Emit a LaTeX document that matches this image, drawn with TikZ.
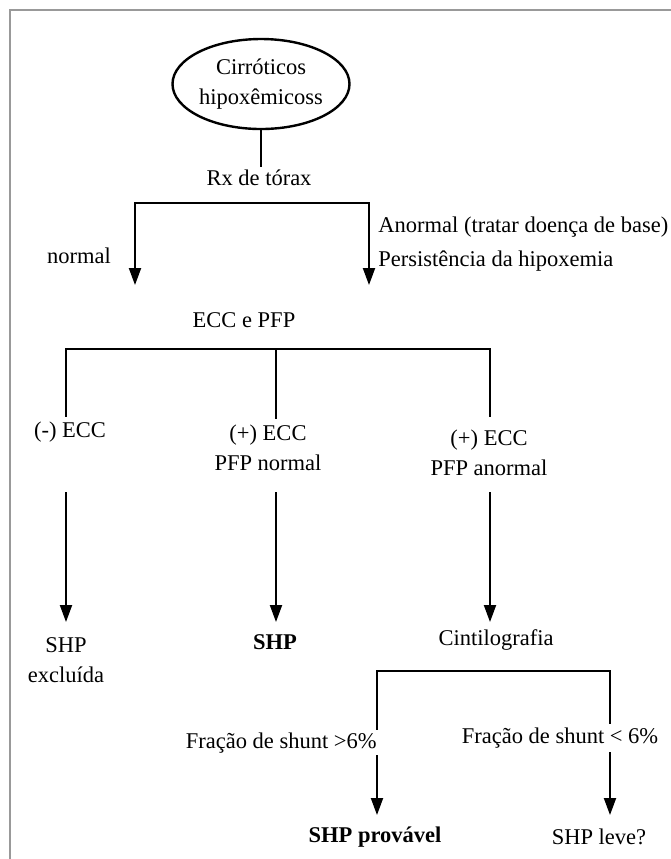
\documentclass[tikz,border=0pt]{standalone}
\usepackage{fontspec}
\setmainfont{Liberation Serif}
\usetikzlibrary{shapes.geometric,arrows.meta}
\begin{document}
\begin{tikzpicture}[
  x=0.5pt, y=-0.5pt,
  every node/.style={font=\fontsize{11.25}{15}\selectfont},
  oval/.style={ellipse, draw, line width=1.2pt, minimum width=88.5pt, minimum height=45pt, inner sep=0pt, align=center},
  txt/.style={inner sep=2pt, align=center},
  link/.style={line width=1.05pt, line cap=rect},
  arrow/.style={-{Triangle[length=8.5pt, width=6pt]}, line width=1.05pt, line cap=rect},
  frame/.style={draw=gray!80, line width=1pt}
]
\useasboundingbox (0,0) rectangle (671,859);
\draw[frame] (671,10) -- (9.5,10) -- (9.5,859);

\node[oval] at (261,84) (root) {Cirróticos\\hipoxêmicoss};
\node[txt] at (259,178) (rx) {Rx de tórax};
\node[txt] at (79,256) (normal) {normal};
\node[txt, anchor=west, align=left] at (374,244) (abnormal) {Anormal (tratar doença de base)\\[2pt]Persistência da hipoxemia};
\node[txt] at (244,320) (eccpfp) {ECC e PFP};
\node[txt] at (70,432) (neg) {(-) ECC};
\node[txt] at (268,448) (posnorm) {(+) ECC\\PFP normal};
\node[txt] at (489,453) (posabn) {(+) ECC\\PFP anormal};
\node[txt] at (66,660) (excl) {SHP\\excluída};
\node[txt] at (275,642) (shp) {\textbf{SHP}};
\node[txt] at (496,640) (cinti) {Cintilografia};
\node[txt, anchor=east] at (381,743) (high) {Fração de shunt >6\%};
\node[txt] at (560,738) (low) {Fração de shunt < 6\%};
\node[txt] at (375,837) (probable) {\textbf{SHP provável}};
\node[txt] at (599,837) (mild) {SHP leve?};

\coordinate (b1l) at (135,203);
\coordinate (b1r) at (369,203);
\coordinate (a1) at (135,285);
\coordinate (a2) at (369,285);
\coordinate (b2l) at (66,349);
\coordinate (b2m) at (276,349);
\coordinate (b2r) at (490,349);
\coordinate (d1) at (66,416);
\coordinate (d2) at (276,418);
\coordinate (d3) at (490,416);
\coordinate (s1) at (66,493);
\coordinate (s2) at (276,493);
\coordinate (s3) at (490,493);
\coordinate (e1) at (66,622);
\coordinate (e2) at (276,622);
\coordinate (e3) at (490,622);
\coordinate (b3l) at (377,671);
\coordinate (b3r) at (610,671);
\coordinate (f1) at (377,729);
\coordinate (f2) at (610,723);
\coordinate (g1) at (377,756);
\coordinate (g2) at (610,753);
\coordinate (h1) at (377,815);
\coordinate (h2) at (610,815);

\draw[link] (root.south) -- (root.south |- rx.north);
\draw[link] (b1l) -- (b1r);
\draw[arrow] (b1l) -- (a1);
\draw[arrow] (b1r) -- (a2);
\draw[link] (b2l) -- (b2r);
\draw[link] (b2l) -- (d1);
\draw[link] (b2m) -- (d2);
\draw[link] (b2r) -- (d3);
\draw[arrow] (s1) -- (e1);
\draw[arrow] (s2) -- (e2);
\draw[arrow] (s3) -- (e3);
\draw[link] (b3l) -- (b3r);
\draw[link] (b3l) -- (f1);
\draw[link] (b3r) -- (f2);
\draw[arrow] (g1) -- (h1);
\draw[arrow] (g2) -- (h2);
\end{tikzpicture}
\end{document}
